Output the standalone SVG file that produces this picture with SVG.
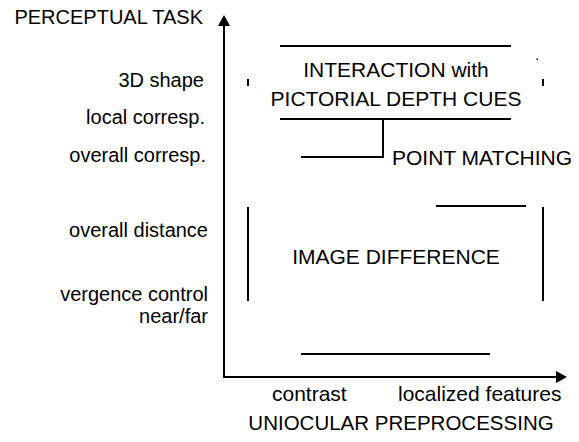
<svg xmlns="http://www.w3.org/2000/svg" width="579" height="442" viewBox="0 0 579 442">
  <style>
    text { font-family: "Liberation Sans", Arial, Helvetica, sans-serif; fill: #000; }
    .axis-label { font-size: 20px; text-anchor: end; }
    .box-label { font-size: 21px; text-anchor: middle; }
    .tick-label { font-size: 21px; }
    .rule { stroke: #000; stroke-width: 2; fill: none; }
    .axis { stroke: #000; stroke-width: 2; fill: none; }
  </style>
  <defs>
    <marker id="arrowhead" markerUnits="userSpaceOnUse" markerWidth="12" markerHeight="12" refX="0" refY="6" orient="auto">
      <path d="M0,0 L11,6 L0,12 z" fill="#000"/>
    </marker>
  </defs>
  <rect width="579" height="442" fill="#fff"/>

  <!-- axes -->
  <g id="axes">
    <line class="axis" x1="224" y1="378" x2="224" y2="26" marker-end="url(#arrowhead)"/>
    <line class="axis" x1="223" y1="377" x2="556" y2="377" marker-end="url(#arrowhead)"/>
    <text x="203" y="24" class="axis-label">PERCEPTUAL TASK</text>
    <text x="401" y="430" font-size="20.5" text-anchor="middle">UNIOCULAR PREPROCESSING</text>
  </g>

  <!-- perceptual task levels (vertical axis) -->
  <g id="task-levels">
    <text x="204" y="87" class="axis-label">3D shape</text>
    <text x="205" y="124" class="axis-label">local corresp.</text>
    <text x="206" y="162" class="axis-label">overall corresp.</text>
    <text x="208" y="237" class="axis-label">overall distance</text>
    <text x="208" y="301" class="axis-label">vergence control</text>
    <text x="208" y="323" class="axis-label">near/far</text>
  </g>

  <!-- preprocessing levels (horizontal axis) -->
  <g id="preprocessing-levels">
    <text x="272" y="401" class="tick-label">contrast</text>
    <text x="398" y="401" class="tick-label">localized features</text>
  </g>

  <!-- interaction with pictorial depth cues -->
  <g id="interaction">
    <line class="rule" x1="280" y1="46" x2="511" y2="46"/>
    <line class="rule" x1="280" y1="119" x2="511" y2="119"/>
    <line class="rule" x1="248" y1="79" x2="248" y2="86"/>
    <line class="rule" x1="543" y1="79" x2="543" y2="86"/>
    <rect x="536.5" y="58.5" width="1.5" height="1.5" fill="#000"/>
    <text x="396" y="77" class="box-label">INTERACTION with</text>
    <text x="396" y="106" class="box-label">PICTORIAL DEPTH CUES</text>
  </g>

  <!-- point matching -->
  <g id="point-matching">
    <text x="392" y="165" class="tick-label">POINT MATCHING</text>
  </g>

  <!-- image difference -->
  <g id="image-difference">
    <line class="rule" x1="248" y1="207" x2="248" y2="301"/>
    <line class="rule" x1="543" y1="207" x2="543" y2="301"/>
    <line class="rule" x1="436" y1="206" x2="526" y2="206"/>
    <line class="rule" x1="301" y1="354" x2="490" y2="354"/>
    <text x="396" y="264" class="box-label">IMAGE DIFFERENCE</text>
  </g>

  <!-- connectors -->
  <g id="connectors">
    <polyline class="rule" points="383,119 383,157 301,157"/>
  </g>
</svg>
